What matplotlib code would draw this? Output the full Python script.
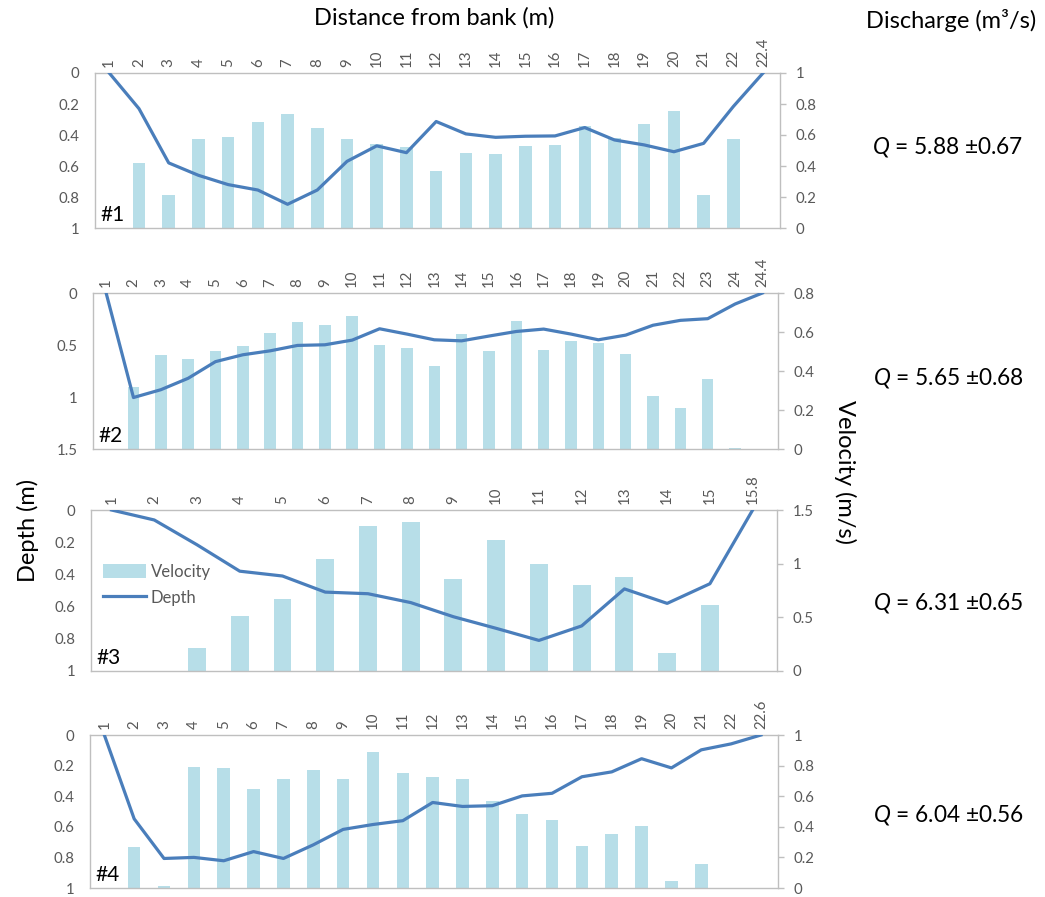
import matplotlib
matplotlib.use('Agg')
import matplotlib.pyplot as plt
import numpy as np
from matplotlib.patches import Patch
from matplotlib.lines import Line2D

plt.rcParams['font.family'] = ['Lato', 'DejaVu Sans']
plt.rcParams['mathtext.fontset'] = 'custom'
plt.rcParams['mathtext.rm'] = 'Lato'
plt.rcParams['mathtext.it'] = 'Lato:italic'

# ---------------- data ----------------
p1_labels = [str(i) for i in range(1, 23)] + ['22.4']
p1_depth = [0, 0.23, 0.58, 0.66, 0.72, 0.755, 0.847, 0.755, 0.57, 0.47, 0.514, 0.313,
            0.393, 0.415, 0.408, 0.406, 0.352, 0.432, 0.464, 0.508, 0.454, 0.216, 0]
p1_vel = [0, 0.42, 0.216, 0.577, 0.59, 0.685, 0.737, 0.644, 0.577, 0.542, 0.525, 0.37,
          0.482, 0.477, 0.529, 0.536, 0.66, 0.58, 0.672, 0.758, 0.216, 0.577, 0]

p2_labels = [str(i) for i in range(1, 25)] + ['24.4']
p2_depth = [0, 1.005, 0.93, 0.82, 0.66, 0.594, 0.556, 0.504, 0.498, 0.453, 0.344, 0.395,
            0.45, 0.46, 0.414, 0.37, 0.347, 0.395, 0.45, 0.405, 0.31, 0.263, 0.247, 0.106, 0]
p2_vel = [0, 0.317, 0.483, 0.461, 0.502, 0.529, 0.594, 0.651, 0.636, 0.684, 0.534, 0.519,
          0.428, 0.589, 0.502, 0.658, 0.507, 0.555, 0.543, 0.488, 0.274, 0.209, 0.36, 0.005, 0]

p3_labels = [str(i) for i in range(1, 16)] + ['15.8']
p3_depth = [0, 0.062, 0.216, 0.38, 0.41, 0.51, 0.52, 0.575, 0.663, 0.735, 0.81, 0.72,
            0.49, 0.58, 0.458, 0]
p3_vel = [0, 0, 0.216, 0.514, 0.675, 1.04, 1.352, 1.392, 0.856, 1.223, 0.998, 0.798,
          0.875, 0.169, 0.619, 0]

p4_labels = [str(i) for i in range(1, 23)] + ['22.6']
p4_depth = [0, 0.548, 0.807, 0.80, 0.822, 0.762, 0.807, 0.718, 0.617, 0.585, 0.56, 0.441,
            0.467, 0.462, 0.398, 0.381, 0.273, 0.241, 0.155, 0.215, 0.097, 0.058, 0]
p4_vel = [0, 0.268, 0.013, 0.792, 0.784, 0.645, 0.712, 0.773, 0.712, 0.892, 0.75, 0.723,
          0.71, 0.57, 0.486, 0.443, 0.275, 0.35, 0.404, 0.049, 0.157, 0, 0]

panel_names = ['#1', '#2', '#3', '#4']
depth_max = [1, 1.5, 1, 1]
depth_step = [0.2, 0.5, 0.2, 0.2]
vel_max = [1, 0.8, 1.5, 1]
vel_step = [0.2, 0.2, 0.5, 0.2]
discharge = ['5.88 ±0.67', '5.65 ±0.68', '6.31 ±0.65', '6.04 ±0.56']

panels = [(p1_labels, p1_depth, p1_vel), (p2_labels, p2_depth, p2_vel),
          (p3_labels, p3_depth, p3_vel), (p4_labels, p4_depth, p4_vel)]

# ---------------- style ----------------
W, H = 1045, 897
BAR_C = '#B7DEE8'
LINE_C = '#4A7EBB'
GRID_C = '#BFBFBF'
TXT_C = '#595959'
TICK_FS = 10.8

# panel rectangles in pixels: left, top, right, bottom
rects = [(95, 73, 780, 228), (93, 293, 778, 449), (91, 510, 777, 671), (90, 735, 778, 888)]
q_y = [147, 378, 603, 815]

fig = plt.figure(figsize=(W / 100, H / 100), dpi=100)


def fx(px):
    return px / W


def fy(py):
    return 1 - py / H


for k, ((labels, depth, vel), (l, t, r, b)) in enumerate(zip(panels, rects)):
    ax = fig.add_axes([fx(l), fy(b), fx(r) - fx(l), (b - t) / H])
    ax2 = ax.twinx()
    n = len(labels)
    x = np.arange(n)

    # velocity bars (right axis)
    ax.bar(x, vel, width=0.42, color=BAR_C, zorder=1)
    ax.set_ylim(0, vel_max[k])
    ax.set_xlim(-0.48, n - 1 + 0.57)
    vt = np.arange(0, vel_max[k] + 1e-9, vel_step[k])
    ax.set_yticks(vt)
    ax.set_yticklabels([f"{v:g}" for v in vt])
    ax.yaxis.tick_right()
    ax.yaxis.set_label_position('right')
    ax.tick_params(axis='y', which='both', left=False, labelleft=False, right=True,
                   labelright=True, length=4, width=1, color=GRID_C,
                   labelcolor=TXT_C, labelsize=TICK_FS, pad=7)
    ax.xaxis.tick_top()
    ax.set_xticks(x)
    ax.set_xticklabels(labels, rotation=90)
    ax.tick_params(axis='x', length=0, labelcolor=TXT_C, labelsize=TICK_FS, pad=4)
    for s in ax.spines.values():
        s.set_color(GRID_C)
        s.set_linewidth(1)

    # depth line (left axis, inverted)
    ax2.plot(x, depth, color=LINE_C, lw=2.3, zorder=3, solid_joinstyle='round')
    ax2.set_ylim(depth_max[k], 0)
    dt = np.arange(0, depth_max[k] + 1e-9, depth_step[k])
    ax2.set_yticks(dt)
    ax2.set_yticklabels([f"{v:g}" for v in dt])
    ax2.yaxis.tick_left()
    ax2.tick_params(axis='y', left=True, labelleft=True, right=False, labelright=False,
                    length=0, labelcolor=TXT_C, labelsize=TICK_FS, pad=11)
    for s in ax2.spines.values():
        s.set_visible(False)

    ax2.text(0.008, 0.045, panel_names[k], transform=ax2.transAxes, fontsize=15,
             color='black', ha='left', va='baseline')

    if k == 2:
        ax2.legend(handles=[Patch(facecolor=BAR_C, edgecolor='none', label='Velocity'),
                            Line2D([0], [0], color=LINE_C, lw=2.3, label='Depth')],
                   loc='upper left', bbox_to_anchor=(0.0, 0.74), frameon=False,
                   fontsize=12, labelcolor=TXT_C, handlelength=2.6, handleheight=0.9,
                   handletextpad=0.3, labelspacing=0.6, borderaxespad=0.3)

    fig.text(fx(948), fy(q_y[k]), r'$\it{Q}$ = ' + discharge[k], ha='center', va='center',
             fontsize=16.3, color='black')

fig.text(fx(434), fy(18), 'Distance from bank (m)', ha='center', va='center', fontsize=17)
fig.text(fx(951), fy(20), 'Discharge (m³/s)', ha='center', va='center', fontsize=17)
fig.text(fx(28), fy(530), 'Depth (m)', ha='center', va='center', fontsize=17, rotation=90)
fig.text(fx(845), fy(472), 'Velocity (m/s)', ha='center', va='center', fontsize=17,
         rotation=-90)

fig.savefig('out.png', dpi=100)
